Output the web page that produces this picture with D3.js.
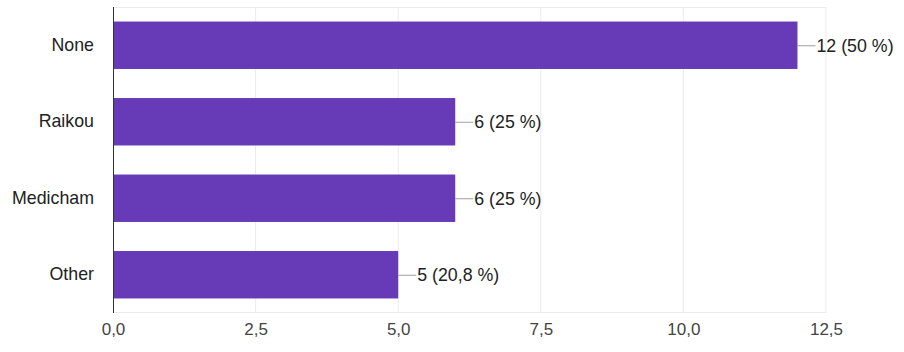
<!DOCTYPE html>
<html>
<head>
<meta charset="utf-8">
<script src="https://cdn.jsdelivr.net/npm/d3@7"></script>
<style>
  body { margin: 0; background: #fff; }
  svg { display: block; font-family: "Liberation Sans", Arial, sans-serif; }
</style>
</head>
<body>
<div id="chart"></div>
<script>
const categories = ["None", "Raikou", "Medicham", "Other"];
const counts = [12, 6, 6, 5];
const percentLabels = ["50 %", "25 %", "25 %", "20,8 %"];
const tickValues = [0, 2.5, 5, 7.5, 10, 12.5];

const width = 904;
const height = 352;
const margin = { top: 7, right: 78, bottom: 39, left: 113 };
const innerWidth = width - margin.left - margin.right;
const innerHeight = height - margin.top - margin.bottom;

const svg = d3.select("#chart").append("svg")
  .attr("width", width)
  .attr("height", height);

const chart = svg.append("g")
  .attr("transform", `translate(${margin.left},${margin.top})`);

const x = d3.scaleLinear().domain([0, 12.5]).range([0, innerWidth]);
const y = d3.scaleBand().domain(categories).range([0, innerHeight]).paddingInner(0.38).paddingOuter(0.19);

const commaFormat = (v) => d3.format(".1f")(v).replace(".", ",");

// vertical grid lines
chart.append("g")
  .selectAll("line")
  .data(tickValues.slice(1))
  .enter()
  .append("line")
  .attr("x1", (d) => x(d))
  .attr("x2", (d) => x(d))
  .attr("y1", 0)
  .attr("y2", innerHeight)
  .attr("stroke", "#ebebeb")
  .attr("stroke-width", 1);

// top and bottom frame lines
chart.append("line")
  .attr("x1", 0).attr("x2", x(12.5))
  .attr("y1", 0.5).attr("y2", 0.5)
  .attr("stroke", "#ebebeb");
chart.append("line")
  .attr("x1", 0).attr("x2", x(12.5))
  .attr("y1", innerHeight - 0.5).attr("y2", innerHeight - 0.5)
  .attr("stroke", "#ebebeb");

chart.selectAll("rect.bar")
  .data(counts)
  .enter()
  .append("rect")
  .attr("class", "bar")
  .attr("x", 0)
  .attr("y", (d, i) => y(categories[i]))
  .attr("width", (d) => x(d))
  .attr("height", y.bandwidth())
  .attr("fill", "#673ab7");

// connector lines + value labels
const labels = chart.selectAll("g.value-label")
  .data(counts)
  .enter()
  .append("g")
  .attr("class", "value-label")
  .attr("transform", (d, i) => `translate(${x(d)},${y(categories[i]) + y.bandwidth() / 2})`);

labels.append("line")
  .attr("x1", 0).attr("x2", 18)
  .attr("y1", 0.5).attr("y2", 0.5)
  .attr("stroke", "#9e9e9e")
  .attr("stroke-width", 1);

labels.append("text")
  .attr("x", 19)
  .attr("dy", "0.36em")
  .attr("fill", "#222")
  .style("font-size", "17.8px")
  .text((d, i) => `${d} (${percentLabels[i]})`);

// category axis
chart.append("g")
  .call(d3.axisLeft(y).tickSize(0).tickPadding(19))
  .call((g) => g.select(".domain").remove())
  .call((g) => g.selectAll("text")
    .attr("fill", "#222")
    .style("font-size", "17.8px")
    .style("font-family", "\"Liberation Sans\", Arial, sans-serif"));

chart.append("line")
  .attr("x1", 0.5).attr("x2", 0.5)
  .attr("y1", 0).attr("y2", innerHeight)
  .attr("stroke", "#333")
  .attr("stroke-width", 1);

// value axis
chart.append("g")
  .attr("transform", `translate(0,${innerHeight})`)
  .call(d3.axisBottom(x).tickValues(tickValues).tickSize(0).tickPadding(10).tickFormat(commaFormat))
  .call((g) => g.select(".domain").remove())
  .call((g) => g.selectAll("text")
    .attr("fill", "#444")
    .style("font-size", "17px")
    .style("font-family", "\"Liberation Sans\", Arial, sans-serif"));
</script>
</body>
</html>
